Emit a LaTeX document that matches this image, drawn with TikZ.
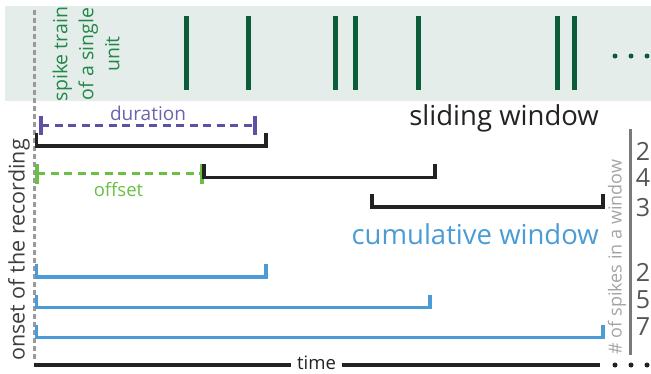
\documentclass[tikz,border=0pt]{standalone}
\usepackage{fontspec}
\setmainfont{Open Sans}
\definecolor{bandbg}{HTML}{E4EDE9}
\definecolor{spikegreen}{HTML}{0B5C38}
\definecolor{labelgreen}{HTML}{23874B}
\definecolor{durpurple}{HTML}{5B52A6}
\definecolor{offgreen}{HTML}{6ABF45}
\definecolor{cumblue}{HTML}{4A9BD6}
\definecolor{slideblack}{HTML}{222222}
\definecolor{onsetgray}{HTML}{9A9A9A}
\definecolor{axisgray}{HTML}{7A7A7A}
\definecolor{numgray}{HTML}{555555}
\definecolor{textgray}{HTML}{3E3E3E}
\definecolor{lightgray}{HTML}{A4A4A4}
\newcommand{\fsz}[1]{\fontsize{#1}{#1}\selectfont}
\begin{document}
\begin{tikzpicture}[x=1pt,y=-1pt,
  spikeline/.style={spikegreen, line width=5pt},
  slidebracket/.style={slideblack, line width=3.5pt},
  cumbracket/.style={cumblue, line width=3.5pt},
  spanline/.style={line width=3pt, dash pattern=on 8pt off 5.5pt},
  spantick/.style={line width=3.5pt},
  dotmark/.style={circle, inner sep=0pt, minimum size=5pt},
  countlabel/.style={numgray, font=\fsz{25}, inner sep=0pt}]
\useasboundingbox (0,0) rectangle (651,373);

% spike-train band
\fill[bandbg] (5,6) rectangle (651,101);
\foreach \sx in {186,248,335,355,418,557,574}
  \draw[spikeline] (\sx,16) -- (\sx,90);
\foreach \dx/\nm in {615/a,631/b,647/c}
  \node[dotmark, fill=spikegreen] (top\nm) at (\dx,56) {};
\node[rotate=90, align=center, labelgreen, font=\fsz{19.5}, inner sep=0pt,
      execute at begin node=\setlength{\baselineskip}{26pt}]
  (unitlabel) at (86,54) {spike train\\of a single\\unit};

% onset of the recording
\coordinate (onsettop) at (34,10);
\coordinate (onsetbot) at (34,362);
\draw[onsetgray, line width=3pt, dash pattern=on 5pt off 3pt] (onsettop) -- (onsetbot);
\node[rotate=90, textgray, font=\fsz{21.5}, inner sep=0pt] (onsetlabel) at (19,250)
  {onset of the recording};

% duration of a window
\coordinate (durL) at (41,125.5);
\coordinate (durR) at (255,125.5);
\draw[durpurple, spanline] (durL) -- (durR);
\draw[durpurple, spantick] (41,116) -- (41,135);
\draw[durpurple, spantick] (255,116) -- (255,135);
\node[durpurple!90!white, font=\fsz{19}, anchor=base, inner sep=0pt] (durlabel) at (148,120) {duration};

% offset between windows
\coordinate (offL) at (37,173.5);
\coordinate (offR) at (202,173.5);
\draw[offgreen, spanline] (offL) -- (offR);
\draw[offgreen, spantick] (37,164) -- (37,184);
\draw[offgreen, spantick] (202,164) -- (202,184);
\node[offgreen, font=\fsz{18.5}, anchor=base, inner sep=0pt] (offlabel) at (118.5,196) {offset};

% sliding windows
\node[slideblack, font=\fsz{27.5}, anchor=base east, inner sep=0pt] (slidelabel) at (599,125) {sliding window};
\draw[slidebracket] (36.5,133) |- (266,146) -- (266,133);
\draw[slidebracket] (204,164) |- (435,177.5) -- (435,164);
\draw[slidebracket] (372,194) |- (603,207) -- (603,194);

% cumulative windows
\node[cumblue, font=\fsz{27.5}, anchor=base east, inner sep=0pt] (cumlabel) at (599,244) {cumulative window};
\draw[cumbracket] (36.5,264) |- (266,277) -- (266,264);
\draw[cumbracket] (36.5,295) |- (430,307.5) -- (430,295);
\draw[cumbracket] (36.5,325) |- (603,337.5) -- (603,325);

% spike counts
\coordinate (cntTop) at (630.5,129);
\coordinate (cntBot) at (630.5,355);
\draw[axisgray, line width=2.5pt] (cntTop) -- (cntBot);
\node[rotate=90, lightgray, font=\fsz{18}, inner sep=0pt] (cntlabel) at (617,257) {\# of spikes in a window};
\foreach \cy/\cv/\nm in {151/2/s1,178/4/s2,208/3/s3,272/2/c1,300/5/c2,327/7/c3}
  \node[countlabel] (n\nm) at (643,\cy) {\cv};

% time axis
\node[slideblack, font=\fsz{18.5}, anchor=base, inner xsep=6pt, inner ysep=0pt] (timelabel) at (316.5,369) {time};
\coordinate (timeL) at (34,365);
\coordinate (timeR) at (600,365);
\draw[slideblack, line width=3.5pt] (timeL) -- (timelabel.west |- timeL);
\draw[slideblack, line width=3.5pt] (timelabel.east |- timeR) -- (timeR);
\foreach \dx/\nm in {615/a,631/b,647/c}
  \node[dotmark, fill=slideblack] (bot\nm) at (\dx,365) {};
\end{tikzpicture}
\end{document}
